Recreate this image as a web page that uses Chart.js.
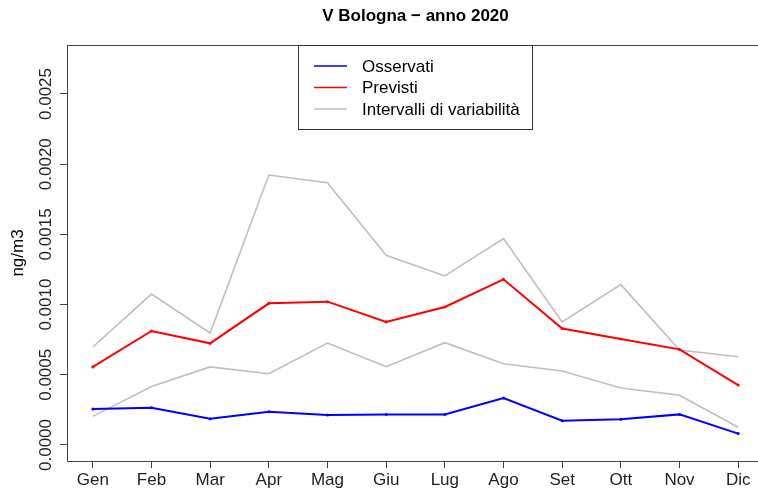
<!DOCTYPE html>
<html>
<head>
<meta charset="utf-8">
<script src="https://cdn.jsdelivr.net/npm/chart.js@4/dist/chart.umd.min.js"></script>
<style>
  body { margin: 0; overflow: hidden; background: #fff; }
  canvas { display: block; }
</style>
</head>
<body>
<canvas id="myChart" width="758" height="488"></canvas>
<script>
const mesi = ["Gen", "Feb", "Mar", "Apr", "Mag", "Giu", "Lug", "Ago", "Set", "Ott", "Nov", "Dic"];

const osservati = [0.000256, 0.000266, 0.000187, 0.000237, 0.000214, 0.000218, 0.000218, 0.000335, 0.000173, 0.000183, 0.000218, 0.000081];
const previsti = [0.000556, 0.000812, 0.000724, 0.001009, 0.001021, 0.000876, 0.000983, 0.00118, 0.000829, 0.000755, 0.000681, 0.000427];
const intervalloSup = [0.000698, 0.001075, 0.000798, 0.001923, 0.001868, 0.001351, 0.001204, 0.00147, 0.000876, 0.001142, 0.000677, 0.000629];
const intervalloInf = [0.000204, 0.000416, 0.000556, 0.000508, 0.000726, 0.000558, 0.000729, 0.000579, 0.000527, 0.000406, 0.000354, 0.000126];

const yTicks = [0, 0.0005, 0.001, 0.0015, 0.002, 0.0025];
const yTickLabels = ["0.0000", "0.0005", "0.0010", "0.0015", "0.0020", "0.0025"];

const titolo = "V Bologna \u2212 anno 2020";
const legendItems = [
  { label: "Osservati", color: "#0000ff" },
  { label: "Previsti", color: "#ff0000" },
  { label: "Intervalli di variabilità", color: "#bebebe" },
];

const toXY = (arr) => arr.map((v, i) => ({ x: i, y: v }));
const FONT = '"Liberation Sans", Arial, sans-serif';

// top of the box, title, rotated y labels and legend like base R graphics
// (the plot box runs past the right edge of the picture, so no right side)
const rPlot = {
  id: "rPlot",
  afterDraw(chart) {
    const { ctx, chartArea } = chart;
    const x = chart.scales.x;
    const y = chart.scales.y;
    ctx.save();

    ctx.strokeStyle = "#444";
    ctx.lineWidth = 1;
    ctx.beginPath();
    ctx.moveTo(chartArea.left, Math.round(chartArea.top) + 0.5);
    ctx.lineTo(chart.width, Math.round(chartArea.top) + 0.5);
    ctx.stroke();

    ctx.fillStyle = "#000";
    ctx.font = "bold 17px " + FONT;
    ctx.textAlign = "center";
    ctx.textBaseline = "middle";
    ctx.fillText(titolo, (x.getPixelForValue(-0.44) + x.getPixelForValue(11.44)) / 2, 16);

    ctx.font = "17px " + FONT;
    ctx.fillStyle = "#222";
    yTicks.forEach((v, i) => {
      ctx.save();
      ctx.translate(chartArea.left - 21, y.getPixelForValue(v));
      ctx.rotate(-Math.PI / 2);
      ctx.fillText(yTickLabels[i], 0, 0);
      ctx.restore();
    });

    // legend
    const lx = 298, ly = chartArea.top;
    ctx.strokeStyle = "#333";
    ctx.strokeRect(lx + 0.5, ly + 0.5, 234, 84);
    ctx.textAlign = "left";
    legendItems.forEach((it, i) => {
      const yy = ly + 21 + i * 21.5;
      ctx.strokeStyle = it.color;
      ctx.lineWidth = 1.5;
      ctx.beginPath();
      ctx.moveTo(lx + 16, yy);
      ctx.lineTo(lx + 49, yy);
      ctx.stroke();
      ctx.fillStyle = "#000";
      ctx.fillText(it.label, lx + 64, yy + 1);
    });
    ctx.restore();
  },
};

const ctx = document.getElementById("myChart").getContext("2d");
const myChart = new Chart(ctx, {
  type: "line",
  data: {
    datasets: [
      {
        label: "Osservati",
        data: toXY(osservati),
        borderColor: "#0000ff",
        backgroundColor: "#0000ff",
        borderWidth: 2,
        pointRadius: 1.5,
        pointBorderWidth: 0,
        order: 1,
      },
      {
        label: "Previsti",
        data: toXY(previsti),
        borderColor: "#ff0000",
        backgroundColor: "#ff0000",
        borderWidth: 2,
        pointRadius: 1.5,
        pointBorderWidth: 0,
        order: 2,
      },
      {
        label: "Intervalli di variabilità",
        data: toXY(intervalloSup),
        borderColor: "#bebebe",
        borderWidth: 1.6,
        pointRadius: 0,
        order: 3,
      },
      {
        label: "Intervalli di variabilità",
        data: toXY(intervalloInf),
        borderColor: "#bebebe",
        borderWidth: 1.6,
        pointRadius: 0,
        order: 4,
      },
    ],
  },
  options: {
    responsive: false,
    animation: false,
    devicePixelRatio: 1,
    layout: { autoPadding: false, padding: { top: 45, right: 0, left: 0, bottom: 0 } },
    scales: {
      x: {
        type: "linear",
        min: -0.44,
        max: 11.338,
        afterBuildTicks: (scale) => {
          scale.ticks = mesi.map((m, i) => ({ value: i }));
        },
        afterFit: (scale) => {
          scale.height = 27;
          scale.paddingLeft = 0;
          scale.paddingRight = 0;
        },
        grid: {
          drawOnChartArea: false,
          tickLength: 7,
          color: "#444",
        },
        border: { color: "#444" },
        ticks: {
          autoSkip: false,
          maxRotation: 0,
          padding: 2,
          color: "#222",
          font: { family: FONT, size: 17 },
          callback: (v) => mesi[v],
        },
      },
      y: {
        min: -0.000114,
        max: 0.002849,
        afterBuildTicks: (scale) => {
          scale.ticks = yTicks.map((v) => ({ value: v }));
        },
        afterFit: (scale) => {
          scale.width = 67;
        },
        grid: {
          drawOnChartArea: false,
          tickLength: 7,
          color: "#444",
        },
        border: { color: "#444" },
        ticks: { display: false },
        title: {
          display: true,
          text: "ng/m3",
          color: "#000",
          font: { family: FONT, size: 17 },
          padding: { top: 8, bottom: 0 },
        },
      },
    },
    plugins: {
      legend: { display: false },
      tooltip: { enabled: false },
    },
  },
  plugins: [rPlot],
});
</script>
</body>
</html>
